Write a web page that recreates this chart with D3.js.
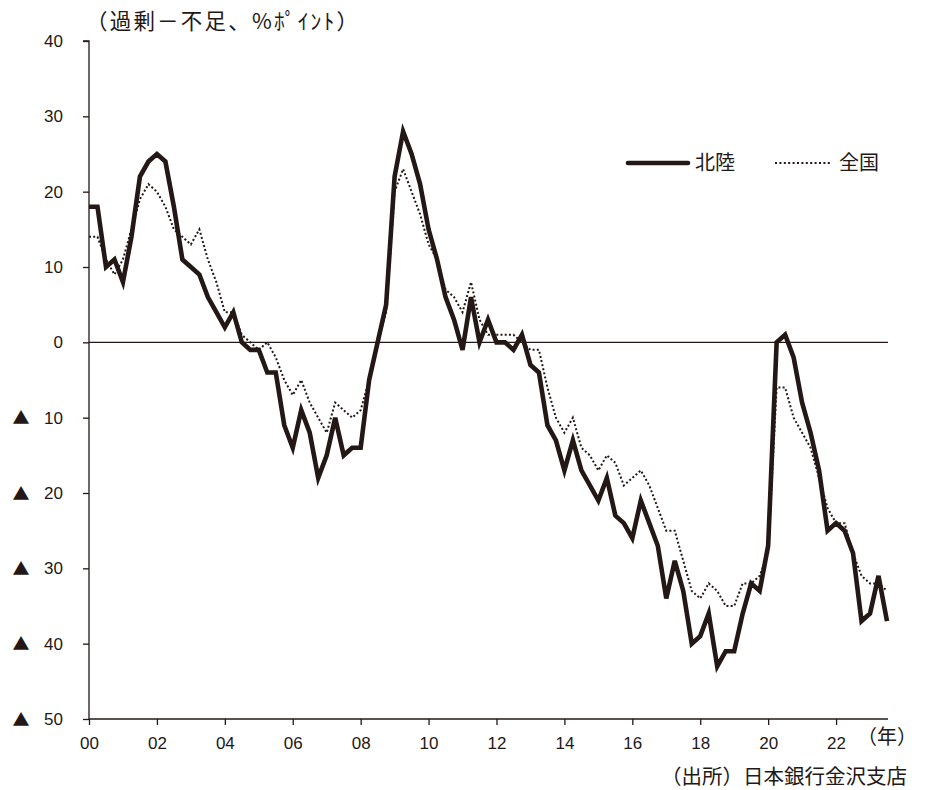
<!DOCTYPE html>
<html>
<head>
<meta charset="utf-8">
<script src="https://cdn.jsdelivr.net/npm/d3@7"></script>
<style>
  html, body { margin: 0; padding: 0; background: #fff; }
  svg { display: block; font-family: "Noto Sans CJK JP", "Noto Sans", sans-serif; }
</style>
</head>
<body>
<svg id="chart" width="928" height="790"></svg>
<script>
// 雇用人員判断DI（四半期、2000年1-3月～2023年7-9月）
const startYear = 2000;
const hokuriku = [18,18,10,11,8,14,22,24,25,24,18,11,10,9,6,4,2,4,0,-1,-1,-4,-4,-11,-14,-9,-12,-18,-15,-10,-15,-14,-14,-5,0,5,22,28,25,21,15,11,6,3,-1,6,0,3,0,0,-1,1,-3,-4,-11,-13,-17,-13,-17,-19,-21,-18,-23,-24,-26,-21,-24,-27,-34,-29,-33,-40,-39,-36,-43,-41,-41,-36,-32,-33,-27,0,1,-2,-8,-12,-17,-25,-24,-25,-28,-37,-36,-31,-37];
const zenkoku = [14,14,11,9,11,15,19,21,20,18,15,14,13,15,11,8,4,4,1,0,-1,0,-2,-5,-7,-5,-8,-10,-12,-8,-9,-10,-9,-5,0,4,20,23,20,17,13,11,7,6,4,8,3,1,1,1,1,0,-1,-1,-6,-10,-12,-10,-14,-15,-17,-15,-16,-19,-18,-17,-19,-22,-25,-25,-29,-33,-34,-32,-33,-35,-35,-32,-32,-31,-28,-6,-6,-10,-12,-14,-18,-22,-24,-24,-28,-31,-32,-32,-33];
const yTicks = [40,30,20,10,0,-10,-20,-30,-40,-50];
const xTickYears = [2000,2002,2004,2006,2008,2010,2012,2014,2016,2018,2020,2022];
const seriesNames = ["北陸", "全国"];

const ink = "#231815";
const cjk = "'Noto Sans CJK JP', 'Noto Sans', sans-serif";
const latin = "'Liberation Sans', 'Noto Sans', sans-serif";
const svg = d3.select("#chart");

const x = d3.scaleLinear()
  .domain([startYear, startYear + (hokuriku.length - 1) / 4])
  .range([89, 887]);
const y = d3.scaleLinear().domain([-50, 40]).range([719, 41]);
const t = i => startYear + i / 4;

// y axis (negative values are shown with a ▲ mark)
const yAxis = svg.append("g")
  .attr("transform", `translate(${x(startYear)},0)`)
  .call(d3.axisLeft(y).tickValues(yTicks).tickSize(6).tickPadding(20)
    .tickFormat(d => String(Math.abs(d))));
yAxis.select(".domain").attr("stroke", ink).attr("stroke-width", 1.3).attr("d", `M-6,${y(40)}H0V${y(-50)}`);
yAxis.selectAll(".tick line").attr("stroke", ink).attr("stroke-width", 1.3);
yAxis.selectAll(".tick text").attr("fill", ink).style("font-size", "17px").style("font-family", latin);
yAxis.selectAll(".tick").filter(d => d < 0).append("text")
  .attr("x", 21 - x(startYear)).attr("dy", "0.36em")
  .attr("text-anchor", "middle").attr("fill", ink)
  .style("font-family", cjk).style("font-size", "17px").text("▲");

// x axis
const xAxis = svg.append("g")
  .attr("transform", `translate(0,${y(-50)})`)
  .call(d3.axisBottom(x).tickValues(xTickYears).tickSize(6).tickPadding(12)
    .tickFormat(d => String(d % 100).padStart(2, "0")));
xAxis.select(".domain").attr("stroke", ink).attr("stroke-width", 1.3)
  .attr("d", `M${x(startYear)},0H888`);
xAxis.selectAll(".tick line").attr("stroke", ink).attr("stroke-width", 1.3);
xAxis.selectAll(".tick text").attr("fill", ink).style("font-size", "17px").style("font-family", latin);

// zero line
svg.append("line")
  .attr("x1", x(startYear)).attr("x2", 888)
  .attr("y1", y(0)).attr("y2", y(0))
  .attr("stroke", ink).attr("stroke-width", 1.3);

const line = d3.line().x((d, i) => x(t(i))).y(d => y(d));

svg.append("path").datum(zenkoku)
  .attr("d", line).attr("fill", "none")
  .attr("stroke", ink).attr("stroke-width", 2)
  .attr("stroke-dasharray", "2,2.2");

svg.append("path").datum(hokuriku)
  .attr("d", line).attr("fill", "none")
  .attr("stroke", ink).attr("stroke-width", 4.6)
  .attr("stroke-linejoin", "miter");

// legend
const lg = svg.append("g");
lg.append("line").attr("x1", 628).attr("x2", 688).attr("y1", 163).attr("y2", 163)
  .attr("stroke", ink).attr("stroke-width", 4.6).attr("stroke-linecap", "round");
lg.append("text").attr("x", 695).attr("y", 170).attr("fill", ink)
  .style("font-size", "20px").text(seriesNames[0]);
lg.append("line").attr("x1", 775).attr("x2", 832).attr("y1", 163).attr("y2", 163)
  .attr("stroke", ink).attr("stroke-width", 2).attr("stroke-dasharray", "2,2.4");
lg.append("text").attr("x", 839).attr("y", 170).attr("fill", ink)
  .style("font-size", "20px").text(seriesNames[1]);

// titles
svg.append("text").attr("x", 86).attr("y", 29).attr("fill", ink)
  .attr("textLength", 272).attr("lengthAdjust", "spacing")
  .style("font-size", "21.5px").text("（過剰－不足、%ﾎﾟｲﾝﾄ）");
svg.append("text").attr("x", 857).attr("y", 744).attr("fill", ink)
  .style("font-size", "20px").text("（年）");
svg.append("text").attr("x", 907).attr("y", 784).attr("text-anchor", "end").attr("fill", ink)
  .style("font-size", "20.5px").text("（出所）日本銀行金沢支店");
</script>
</body>
</html>
